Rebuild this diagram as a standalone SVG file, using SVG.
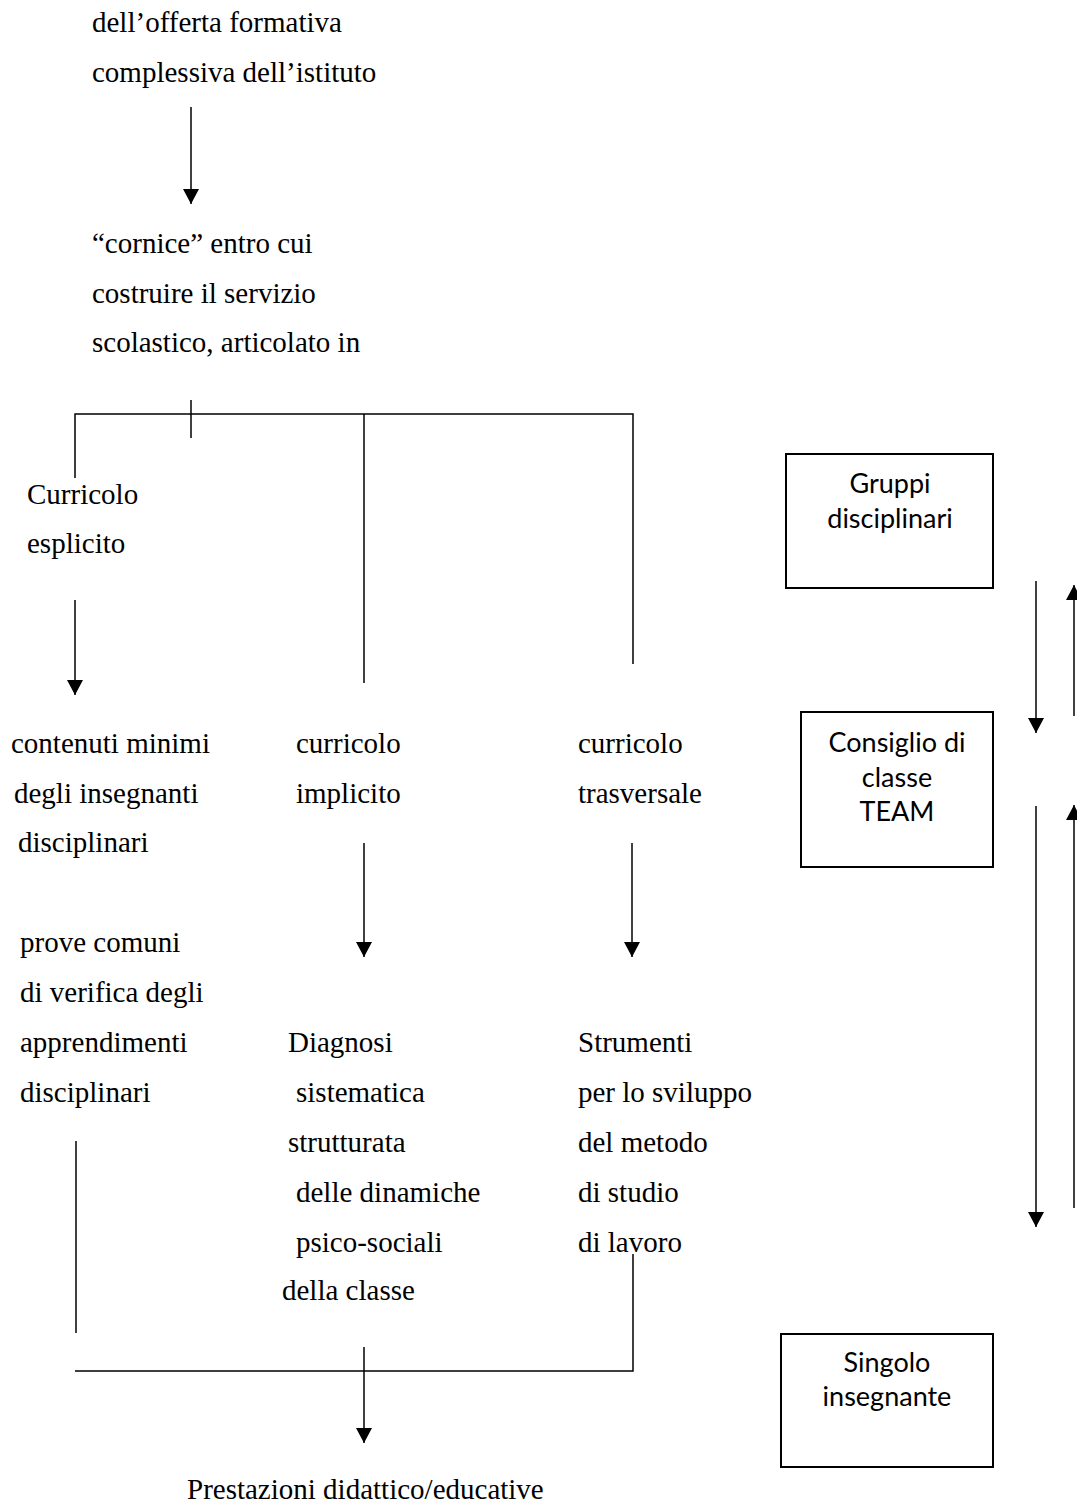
<svg xmlns="http://www.w3.org/2000/svg" width="1077" height="1506" viewBox="0 0 1077 1506">
<style>
.t{font-family:"Liberation Serif","Times New Roman",serif;font-size:29px;fill:#000}
.b{font-family:Lato,"Open Sans",sans-serif;font-size:27px;fill:#000;text-anchor:middle}
.box{fill:none;stroke:#000;stroke-width:2}
.c{fill:none;stroke:#000;stroke-width:1.5}
</style>
<defs>
<marker id="ah" markerUnits="userSpaceOnUse" markerWidth="15" markerHeight="16" refX="15" refY="8" orient="auto" viewBox="0 0 15 16">
<path d="M0,0 L15,8 L0,16 z" fill="#000"/>
</marker>
</defs>
<rect width="1077" height="1506" fill="#fff"/>
<g id="n-offerta"><text class="t" x="92" y="32">dell’offerta formativa</text><text class="t" x="92" y="82">complessiva dell’istituto</text></g>
<g id="n-cornice"><text class="t" x="92" y="253">“cornice” entro cui</text><text class="t" x="92" y="303">costruire il servizio</text><text class="t" x="92" y="352">scolastico, articolato in</text></g>
<g id="n-esplicito"><text class="t" x="27" y="504">Curricolo</text><text class="t" x="27" y="553">esplicito</text></g>
<g id="n-contenuti"><text class="t" x="11" y="753">contenuti minimi</text><text class="t" x="14" y="803">degli insegnanti</text><text class="t" x="18" y="852">disciplinari</text></g>
<g id="n-implicito"><text class="t" x="296" y="753">curricolo</text><text class="t" x="296" y="803">implicito</text></g>
<g id="n-trasversale"><text class="t" x="578" y="753">curricolo</text><text class="t" x="578" y="803">trasversale</text></g>
<g id="n-prove"><text class="t" x="20" y="952">prove comuni</text><text class="t" x="20" y="1002">di verifica degli</text><text class="t" x="20" y="1052">apprendimenti</text><text class="t" x="20" y="1102">disciplinari</text></g>
<g id="n-diagnosi"><text class="t" x="288" y="1052">Diagnosi</text><text class="t" x="296" y="1102">sistematica</text><text class="t" x="288" y="1152">strutturata</text><text class="t" x="296" y="1202">delle dinamiche</text><text class="t" x="296" y="1252">psico-sociali</text><text class="t" x="282" y="1300">della classe</text></g>
<g id="n-strumenti"><text class="t" x="578" y="1052">Strumenti</text><text class="t" x="578" y="1102">per lo sviluppo</text><text class="t" x="578" y="1152">del metodo</text><text class="t" x="578" y="1202">di studio</text><text class="t" x="578" y="1252">di lavoro</text></g>
<g id="n-prestazioni"><text class="t" x="187" y="1499">Prestazioni didattico/educative</text></g>
<g id="n-gruppi"><rect class="box" x="786" y="454" width="207" height="134"/><text class="b" x="890" y="493">Gruppi</text><text class="b" x="890" y="528">disciplinari</text></g>
<g id="n-consiglio"><rect class="box" x="801" y="712" width="192" height="155"/><text class="b" x="897" y="752">Consiglio di</text><text class="b" x="897" y="787">classe</text><text class="b" x="897" y="821">TEAM</text></g>
<g id="n-singolo"><rect class="box" x="781" y="1334" width="212" height="133"/><text class="b" x="887" y="1372">Singolo</text><text class="b" x="887" y="1406">insegnante</text></g>
<g id="connectors">
<line class="c" x1="191" y1="107" x2="191" y2="204" marker-end="url(#ah)"/>
<polyline class="c" points="75,478 75,414 633,414 633,664"/>
<line class="c" x1="191" y1="400" x2="191" y2="438"/>
<line class="c" x1="364" y1="414" x2="364" y2="683"/>
<line class="c" x1="75" y1="600" x2="75" y2="695" marker-end="url(#ah)"/>
<line class="c" x1="364" y1="843" x2="364" y2="957" marker-end="url(#ah)"/>
<line class="c" x1="632" y1="843" x2="632" y2="957" marker-end="url(#ah)"/>
<line class="c" x1="76" y1="1141" x2="76" y2="1333"/>
<polyline class="c" points="75,1371 633,1371 633,1254"/>
<line class="c" x1="364" y1="1347" x2="364" y2="1443" marker-end="url(#ah)"/>
<line class="c" x1="1036" y1="581" x2="1036" y2="733" marker-end="url(#ah)"/>
<line class="c" x1="1074" y1="716" x2="1074" y2="585" marker-end="url(#ah)" stroke-width="2"/>
<line class="c" x1="1036" y1="806" x2="1036" y2="1227" marker-end="url(#ah)"/>
<line class="c" x1="1074" y1="1208" x2="1074" y2="805" marker-end="url(#ah)" stroke-width="2"/>
</g>
</svg>
